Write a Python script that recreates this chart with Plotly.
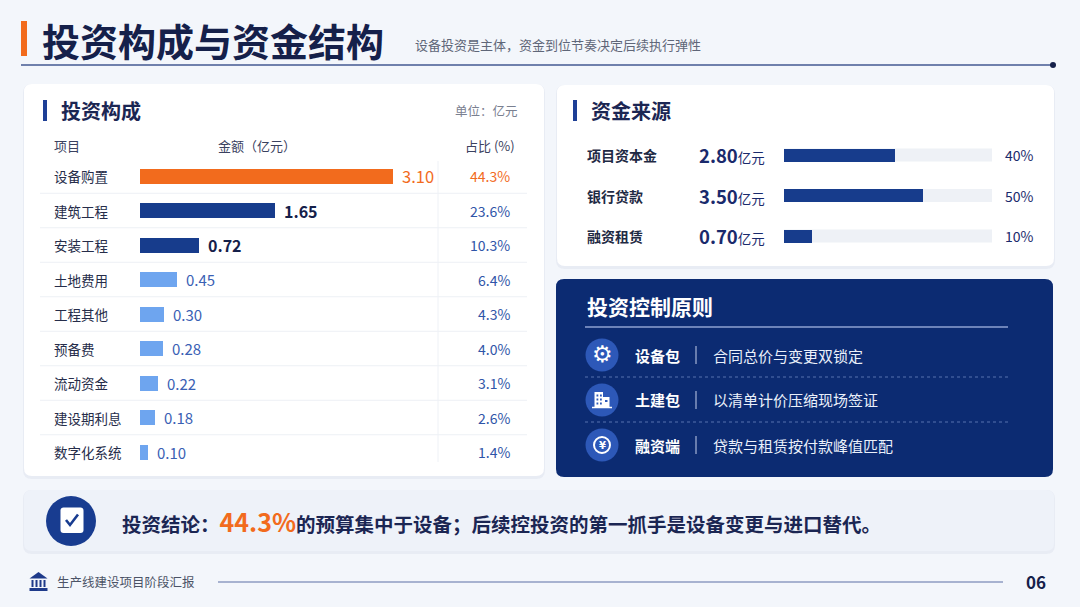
import plotly.graph_objects as go

W, H = 1080, 607
FONT = "Noto Sans CJK SC"

# investment composition
items = ["设备购置", "建筑工程", "安装工程", "土地费用", "工程其他", "预备费", "流动资金", "建设期利息", "数字化系统"]
amounts = [3.10, 1.65, 0.72, 0.45, 0.30, 0.28, 0.22, 0.18, 0.10]
shares = [44.3, 23.6, 10.3, 6.4, 4.3, 4.0, 3.1, 2.6, 1.4]

# funding sources
sources = ["项目资本金", "银行贷款", "融资租赁"]
source_amounts = [2.80, 3.50, 0.70]
source_shares = [40, 50, 10]

# control principles
principles = ["设备包", "土建包", "融资端"]
principle_notes = ["合同总价与变更双锁定", "以清单计价压缩现场签证", "贷款与租赁按付款峰值匹配"]

title = "投资构成与资金结构"
subtitle = "设备投资是主体，资金到位节奏决定后续执行弹性"
conclusion_head = "投资结论："
conclusion_key = "44.3%"
conclusion_tail = "的预算集中于设备；后续控投资的第一抓手是设备变更与进口替代。"
footer = "生产线建设项目阶段汇报"
page_no = "06"

ORANGE = "#F26B1D"
NAVY = "#15204A"
DARK_BLUE = "#173C8C"
LIGHT_BLUE = "#6EA5EF"
MID_BLUE = "#2F55A8"


def X(p):
    return p / W


def Y(p):
    return 1 - p / H


def rrect(x0, y0, x1, y1, r, fill, layer="below"):
    path = (f"M {X(x0 + r)},{Y(y0)} L {X(x1 - r)},{Y(y0)} Q {X(x1)},{Y(y0)} {X(x1)},{Y(y0 + r)} "
            f"L {X(x1)},{Y(y1 - r)} Q {X(x1)},{Y(y1)} {X(x1 - r)},{Y(y1)} "
            f"L {X(x0 + r)},{Y(y1)} Q {X(x0)},{Y(y1)} {X(x0)},{Y(y1 - r)} "
            f"L {X(x0)},{Y(y0 + r)} Q {X(x0)},{Y(y0)} {X(x0 + r)},{Y(y0)} Z")
    return dict(type="path", xref="paper", yref="paper", path=path, fillcolor=fill,
                line_width=0, layer=layer)


def rect(x0, y0, x1, y1, fill, layer="below"):
    return dict(type="rect", xref="paper", yref="paper", x0=X(x0), x1=X(x1), y0=Y(y0), y1=Y(y1),
                fillcolor=fill, line_width=0, layer=layer)


def hline(x0, x1, y, color, width=1, dash="solid", layer="below"):
    return dict(type="line", xref="paper", yref="paper", x0=X(x0), x1=X(x1), y0=Y(y), y1=Y(y),
                line=dict(color=color, width=width, dash=dash), layer=layer)


def vline(x, y0, y1, color, width=1, layer="below"):
    return dict(type="line", xref="paper", yref="paper", x0=X(x), x1=X(x), y0=Y(y0), y1=Y(y1),
                line=dict(color=color, width=width), layer=layer)


def circle(cx, cy, r, fill, line=None, layer="below"):
    d = dict(type="circle", xref="paper", yref="paper", x0=X(cx - r), x1=X(cx + r),
             y0=Y(cy + r), y1=Y(cy - r), fillcolor=fill, layer=layer)
    if line:
        d["line"] = line
    else:
        d["line_width"] = 0
    return d


def txt(x, y, s, size, color, anchor="left", family=FONT, yref="paper"):
    # x always in pixels; y in pixels for paper, else a category on the given axis
    return dict(x=X(x), y=Y(y) if yref == "paper" else y, xref="paper", yref=yref, text=s,
                showarrow=False, xanchor=anchor, yanchor="middle",
                font=dict(size=size, color=color, family=family))


shapes = []
ann = []

# ---- header
shapes.append(rect(21, 21, 27, 56, ORANGE))
ann.append(txt(40, 39, f"<b>{title}</b>", 38, NAVY))
ann.append(txt(413, 45, subtitle, 13, "#5F6678"))
shapes.append(hline(21, 1053, 65, "#6F80AC", 2))
shapes.append(circle(1053, 65, 3, "#15204A"))

# ---- cards
for (x0, y0, x1, y1) in [(24, 84, 544, 476), (557, 85, 1054, 266), (24, 490, 1054, 551)]:
    shapes.append(rrect(x0 - 1, y0, x1 + 1, y1 + 3, 9, "rgba(30,50,110,0.05)"))
    shapes.append(rrect(x0, y0, x1, y1, 8, "white" if y0 < 400 else "#EEF2F9"))
shapes.append(rrect(556, 279, 1053, 477, 8, "#0C2B72"))

# ---- investment composition card
shapes.append(rect(43, 100, 47, 121, "#1E3F96"))
ann.append(txt(59, 110, "<b>投资构成</b>", 20, "#1B2653"))
ann.append(txt(520, 110, "单位：亿元", 12.5, "#7A8090", anchor="right"))
ann.append(txt(52, 145, "项目", 13, "#3A4160"))
ann.append(txt(257, 145, "金额（亿元）", 13, "#3A4160", anchor="center"))
ann.append(txt(517, 145, "占比 (%)", 13, "#3A4160", anchor="right"))

row_h = 34.5
top = 158.75
n = len(items)
for k in range(1, n):
    shapes.append(hline(40, 527, top + row_h * k, "#EDF0F5", 1))
shapes.append(vline(438, 161, 462, "#EEF1F6", 1))

bar_colors = [ORANGE if i == 0 else DARK_BLUE if i < 3 else LIGHT_BLUE for i in range(n)]
fig = go.Figure()
fig.add_trace(go.Bar(x=amounts, y=items, orientation="h", marker=dict(color=bar_colors, line_width=0),
                     width=0.44, hoverinfo="skip", xaxis="x", yaxis="y"))

for i, (name, v, p) in enumerate(zip(items, amounts, shares)):
    ann.append(txt(52, name, name, 13.5, "#262D4A", yref="y"))
    if i == 0:
        vt, vc, pc, vs = f"{v:.2f}", ORANGE, ORANGE, 16.5
    elif i < 3:
        vt, vc, pc, vs = f"<b>{v:.2f}</b>", NAVY, MID_BLUE, 16
    else:
        vt, vc, pc, vs = f"{v:.2f}", "#3A60B4", MID_BLUE, 15
    ann.append(dict(x=v, y=name, xref="x", yref="y", text=vt, showarrow=False, xanchor="left",
                    yanchor="middle", xshift=7, font=dict(size=vs, color=vc, family=FONT)))
    ann.append(txt(512, name, f"{p:.1f}%", 14, pc, anchor="right", yref="y"))

# ---- funding sources card
shapes.append(rect(573, 100, 577, 121, "#1E3F96"))
ann.append(txt(589, 110, "<b>资金来源</b>", 20, "#1B2653"))
f_row = 40.5
f_top = 134.75
for i in range(len(sources)):
    cy = f_top + f_row * (i + 0.5)
    shapes.append(rect(784, cy - 6.5, 992, cy + 6.5, "#EEF1F6"))
fig.add_trace(go.Bar(x=source_shares, y=sources, orientation="h", marker=dict(color=DARK_BLUE, line_width=0),
                     width=0.32, hoverinfo="skip", xaxis="x2", yaxis="y2"))
for name, amt, sh in zip(sources, source_amounts, source_shares):
    ann.append(txt(585, name, f"<b>{name}</b>", 14, "#1F2A44", yref="y2"))
    ann.append(txt(697, name, f"<b>{amt:.2f}</b><span style='font-size:13.5px'>亿元</span>",
                   18.5, "#1A2A6C", yref="y2"))
    ann.append(txt(1003, name, f"{sh}%", 14, "#1A2A6C", yref="y2"))

# ---- control principles card
ann.append(txt(585, 306, "<b>投资控制原则</b>", 21, "white"))
shapes.append(hline(585, 1008, 327, "#8EA2D2", 1.5))
rows_y = [355, 400, 445]
for k in (377, 422):
    shapes.append(hline(585, 1008, k, "rgba(150,172,225,0.55)", 1, dash="dot"))
ICON = "#2D58B8"
for i, (name, note) in enumerate(zip(principles, principle_notes)):
    cy = rows_y[i]
    shapes.append(circle(602, cy, 16.5, ICON))
    ann.append(txt(633, cy, f"<b>{name}</b>", 15, "white"))
    shapes.append(vline(696, cy - 9, cy + 9, "rgba(205,215,240,0.8)", 1.2))
    ann.append(txt(711, cy, note, 15, "#EAF0FA"))

# gear
ann.append(txt(602, 354, "⚙", 23, "white", anchor="center", family="DejaVu Sans"))
# building
by = rows_y[1]
shapes.append(rect(594.5, by - 8, 603, by + 7, "white", layer="above"))
shapes.append(rect(603, by - 3, 609.5, by + 7, "white", layer="above"))
for wx in (596.5, 600):
    for wy in (by - 5.5, by - 1.5, by + 2.5):
        shapes.append(rect(wx, wy, wx + 1.8, wy + 2, ICON, layer="above"))
shapes.append(rect(605, by, 607.5, by + 2, ICON, layer="above"))
shapes.append(hline(592, 612, by + 7.5, "white", 1.5, layer="above"))
# yen coin
cy = rows_y[2]
shapes.append(circle(602, cy, 8, "rgba(0,0,0,0)", line=dict(color="white", width=2), layer="above"))
ann.append(txt(602, cy, "<b>¥</b>", 10, "white", anchor="center", family="DejaVu Sans"))

# ---- conclusion
shapes.append(circle(71, 521, 25, "#183C90"))
shapes.append(rrect(60.5, 507.5, 83.5, 533, 3, "white", layer="above"))
shapes.append(dict(type="path", xref="paper", yref="paper", layer="above",
                   path=f"M {X(66)},{Y(520)} L {X(70)},{Y(525)} L {X(78)},{Y(514.5)}",
                   line=dict(color="#183C90", width=2.6)))
ann.append(txt(120, 521,
               f"<b>{conclusion_head}<span style='color:{ORANGE};font-size:25px'>{conclusion_key}</span>"
               f"{conclusion_tail}</b>", 19.5, "#1B2653"))

# ---- footer
FB = "#1E3A8A"
shapes.append(dict(type="path", xref="paper", yref="paper", layer="above", fillcolor=FB, line_width=0,
                   path=f"M {X(29.5)},{Y(578.5)} L {X(38.5)},{Y(572)} L {X(47.5)},{Y(578.5)} Z"))
for cx in (31.5, 35.5, 39.5, 43.5):
    shapes.append(rect(cx, 580, cx + 2, 587, FB, layer="above"))
shapes.append(rect(29.5, 588, 47.5, 591, FB, layer="above"))
ann.append(txt(55, 581, footer, 12.5, "#4B5366"))
shapes.append(hline(218, 1003, 582, "#8E9BC2", 1.5))
ann.append(txt(1048, 581, f"<b>{page_no}</b>", 17, NAVY, anchor="right"))

fig.update_layout(
    width=W, height=H, margin=dict(l=0, r=0, t=0, b=0),
    paper_bgcolor="#F3F6FB", plot_bgcolor="rgba(0,0,0,0)",
    showlegend=False, shapes=shapes, annotations=ann, bargap=0,
    xaxis=dict(domain=[X(140), X(440)], range=[0, 3.10 * 300 / 253], visible=False, fixedrange=True),
    yaxis=dict(domain=[Y(top + row_h * n), Y(top)], categoryorder="array", categoryarray=items,
               autorange="reversed", visible=False, fixedrange=True),
    xaxis2=dict(domain=[X(784), X(992)], range=[0, 75], visible=False, anchor="y2", fixedrange=True),
    yaxis2=dict(domain=[Y(f_top + f_row * len(sources)), Y(f_top)], categoryorder="array",
                categoryarray=sources, autorange="reversed", visible=False, anchor="x2", fixedrange=True),
    font=dict(family=FONT),
)

fig.write_html("out.html", config={"displayModeBar": False},
               post_script="document.body.style.margin='0';")
